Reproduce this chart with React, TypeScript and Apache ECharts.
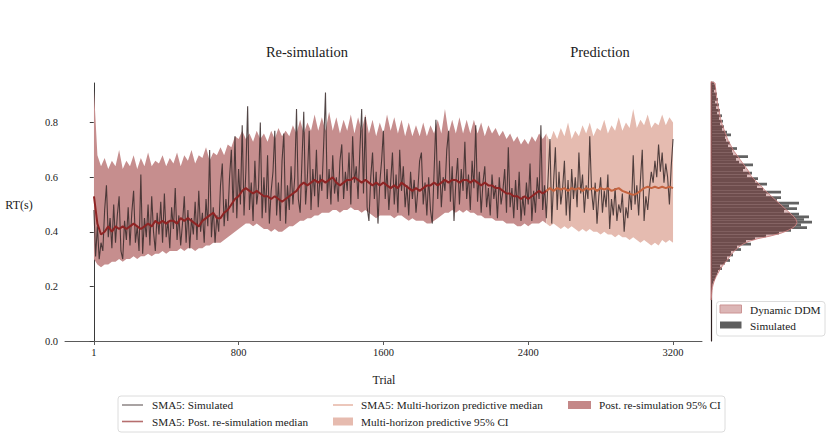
import React, { useEffect, useRef } from "react";
import * as echarts from "echarts";

// ---------- axis ticks ----------
const X_TICKS = [1, 800, 1600, 2400, 3200];
const Y_TICKS = [0, 0.2, 0.4, 0.6, 0.8];

// ---------- sampling grid (trial numbers) ----------
const SIM_STEP = 10; // simulated SMA5 sampled every 10 trials (first = trial 1)
const BAND_STEP = 20; // medians / CIs sampled every 20 trials
const PRED_START = 2500;

// SMA5: Simulated (trials 1, 10, 20, ..., 3200)
const SIMULATED = [
  0.48, 0.31, 0.42, 0.30, 0.36, 0.33, 0.48, 0.57, 0.38, 0.45,
  0.34, 0.50, 0.36, 0.46, 0.53, 0.33, 0.30, 0.44, 0.37, 0.49,
  0.35, 0.47, 0.55, 0.36, 0.42, 0.33, 0.61, 0.32, 0.45, 0.38,
  0.50, 0.35, 0.53, 0.40, 0.33, 0.47, 0.39, 0.51, 0.36, 0.54,
  0.38, 0.44, 0.34, 0.49, 0.41, 0.56, 0.37, 0.46, 0.35, 0.43,
  0.53, 0.36, 0.48, 0.34, 0.45, 0.39, 0.51, 0.37, 0.55, 0.40,
  0.47, 0.36, 0.52, 0.42, 0.70, 0.38, 0.49, 0.36, 0.46, 0.40,
  0.57, 0.65, 0.42, 0.52, 0.44, 0.60, 0.70, 0.47, 0.75, 0.45,
  0.63, 0.50, 0.79, 0.46, 0.62, 0.86, 0.48, 0.58, 0.44, 0.66,
  0.50, 0.56, 0.80, 0.45, 0.60, 0.47, 0.68, 0.43, 0.55, 0.62,
  0.77, 0.46, 0.58, 0.44, 0.66, 0.76, 0.43, 0.57, 0.48, 0.64,
  0.50, 0.60, 0.85, 0.52, 0.47, 0.66, 0.84, 0.50, 0.60, 0.77,
  0.48, 0.63, 0.53, 0.70, 0.49, 0.61, 0.55, 0.72, 0.91, 0.52,
  0.63, 0.50, 0.68, 0.54, 0.60, 0.51, 0.66, 0.72, 0.52, 0.62,
  0.55, 0.69, 0.50, 0.75, 0.58, 0.64, 0.52, 0.70, 0.85, 0.54,
  0.82, 0.49, 0.44, 0.60, 0.69, 0.52, 0.62, 0.43, 0.58, 0.66,
  0.77, 0.52, 0.63, 0.48, 0.58, 0.69, 0.50, 0.61, 0.47, 0.70,
  0.55, 0.64, 0.49, 0.57, 0.46, 0.62, 0.52, 0.59, 0.47, 0.55,
  0.66, 0.69, 0.50, 0.58, 0.46, 0.60, 0.48, 0.43, 0.62, 0.81,
  0.52, 0.66, 0.49, 0.60, 0.55, 0.70, 0.77, 0.51, 0.64, 0.44,
  0.58, 0.67, 0.50, 0.63, 0.55, 0.73, 0.52, 0.61, 0.48, 0.66,
  0.56, 0.79, 0.51, 0.62, 0.47, 0.58, 0.64, 0.49, 0.56, 0.46,
  0.61, 0.52, 0.57, 0.45, 0.60, 0.50, 0.55, 0.63, 0.47, 0.71,
  0.49, 0.56, 0.45, 0.59, 0.48, 0.62, 0.44, 0.53, 0.46, 0.58,
  0.50, 0.65, 0.44, 0.55, 0.47, 0.60, 0.52, 0.79, 0.48, 0.57,
  0.45, 0.60, 0.74, 0.43, 0.58, 0.71, 0.48, 0.62, 0.50, 0.56,
  0.66, 0.46, 0.59, 0.44, 0.63, 0.52, 0.60, 0.49, 0.69, 0.54,
  0.61, 0.47, 0.57, 0.52, 0.75, 0.55, 0.48, 0.58, 0.43, 0.53,
  0.60, 0.47, 0.55, 0.49, 0.61, 0.41, 0.52, 0.46, 0.56, 0.44,
  0.50, 0.47, 0.54, 0.40, 0.49, 0.45, 0.55, 0.48, 0.68, 0.50,
  0.57, 0.46, 0.59, 0.70, 0.44, 0.53, 0.48, 0.56, 0.62, 0.58,
  0.66, 0.60, 0.72, 0.62, 0.69, 0.58, 0.65, 0.60, 0.50, 0.64,
  0.74,
];

// Re-simulation (trials 1, 20, 40, ..., 2500)
const POST_MEDIAN = [
  0.53, 0.43, 0.39, 0.40, 0.42, 0.40, 0.42, 0.41, 0.42, 0.41,
  0.42, 0.43, 0.42, 0.41, 0.42, 0.43, 0.42, 0.44, 0.43, 0.44,
  0.43, 0.44, 0.44, 0.43, 0.45, 0.44, 0.45, 0.44, 0.43, 0.42,
  0.44, 0.45, 0.46, 0.47, 0.45, 0.45, 0.47, 0.48, 0.50, 0.52,
  0.53, 0.55, 0.56, 0.55, 0.54, 0.55, 0.54, 0.53, 0.53, 0.52,
  0.53, 0.52, 0.51, 0.52, 0.53, 0.54, 0.55, 0.57, 0.58, 0.57,
  0.58, 0.59, 0.58, 0.59, 0.58, 0.59, 0.60, 0.58, 0.57, 0.58,
  0.59, 0.59, 0.60, 0.59, 0.58, 0.59, 0.58, 0.57, 0.58, 0.57,
  0.58, 0.57, 0.56, 0.57, 0.56, 0.58, 0.57, 0.56, 0.55, 0.56,
  0.55, 0.56, 0.57, 0.57, 0.58, 0.57, 0.58, 0.59, 0.58, 0.59,
  0.59, 0.58, 0.59, 0.59, 0.58, 0.59, 0.58, 0.57, 0.58, 0.57,
  0.57, 0.56, 0.56, 0.55, 0.54, 0.54, 0.53, 0.53, 0.52, 0.53,
  0.52, 0.53, 0.54, 0.55, 0.54, 0.55,
];
const POST_UPPER = [
  0.92, 0.68, 0.64, 0.67, 0.63, 0.66, 0.64, 0.70, 0.63, 0.66,
  0.64, 0.68, 0.63, 0.67, 0.64, 0.69, 0.64, 0.66, 0.65, 0.68,
  0.64, 0.67, 0.65, 0.69, 0.64, 0.68, 0.66, 0.70, 0.65, 0.68,
  0.67, 0.71, 0.66, 0.69, 0.68, 0.71, 0.68, 0.72, 0.71, 0.75,
  0.74, 0.77, 0.74, 0.76, 0.73, 0.77, 0.74, 0.76, 0.73, 0.77,
  0.74, 0.78, 0.75, 0.77, 0.75, 0.79, 0.76, 0.81, 0.76, 0.80,
  0.77, 0.83, 0.77, 0.82, 0.77, 0.84, 0.77, 0.82, 0.76, 0.81,
  0.77, 0.83, 0.76, 0.82, 0.77, 0.83, 0.76, 0.81, 0.75, 0.80,
  0.76, 0.83, 0.77, 0.82, 0.76, 0.81, 0.75, 0.80, 0.75, 0.79,
  0.75, 0.80, 0.75, 0.79, 0.76, 0.81, 0.76, 0.85, 0.76, 0.81,
  0.76, 0.82, 0.76, 0.81, 0.76, 0.81, 0.76, 0.80, 0.75, 0.79,
  0.76, 0.78, 0.75, 0.77, 0.74, 0.76, 0.73, 0.75, 0.72, 0.74,
  0.72, 0.75, 0.73, 0.76, 0.74, 0.76,
];
const POST_LOWER = [
  0.30, 0.28, 0.27, 0.28, 0.28, 0.29, 0.29, 0.30, 0.29, 0.30,
  0.30, 0.31, 0.30, 0.31, 0.31, 0.32, 0.31, 0.32, 0.32, 0.33,
  0.32, 0.33, 0.33, 0.33, 0.34, 0.33, 0.34, 0.34, 0.33, 0.34,
  0.34, 0.35, 0.35, 0.36, 0.36, 0.36, 0.37, 0.38, 0.39, 0.40,
  0.41, 0.42, 0.43, 0.43, 0.42, 0.43, 0.42, 0.41, 0.41, 0.40,
  0.41, 0.40, 0.40, 0.41, 0.42, 0.42, 0.43, 0.44, 0.44, 0.45,
  0.45, 0.46, 0.46, 0.47, 0.47, 0.47, 0.48, 0.48, 0.47, 0.48,
  0.48, 0.49, 0.48, 0.48, 0.47, 0.48, 0.47, 0.46, 0.45, 0.46,
  0.46, 0.46, 0.46, 0.45, 0.46, 0.46, 0.45, 0.44, 0.45, 0.44,
  0.44, 0.44, 0.43, 0.43, 0.44, 0.45, 0.46, 0.47, 0.47, 0.48,
  0.47, 0.48, 0.47, 0.48, 0.47, 0.47, 0.46, 0.46, 0.45, 0.45,
  0.45, 0.44, 0.44, 0.44, 0.43, 0.43, 0.43, 0.42, 0.42, 0.43,
  0.42, 0.43, 0.43, 0.43, 0.44, 0.43,
];

// Prediction (trials 2500, 2520, ..., 3200)
const PRED_MEDIAN = [
  0.55, 0.56, 0.55, 0.56, 0.555, 0.56, 0.55, 0.56, 0.555, 0.56,
  0.55, 0.56, 0.555, 0.56, 0.55, 0.56, 0.555, 0.56, 0.55, 0.555,
  0.56, 0.55, 0.545, 0.54, 0.535, 0.54, 0.55, 0.56, 0.565, 0.56,
  0.565, 0.56, 0.565, 0.56, 0.565, 0.56,
];
const PRED_UPPER = [
  0.76, 0.73, 0.77, 0.74, 0.78, 0.75, 0.80, 0.74, 0.77, 0.75,
  0.79, 0.76, 0.80, 0.75, 0.78, 0.77, 0.81, 0.76, 0.79, 0.77,
  0.82, 0.77, 0.80, 0.78, 0.85, 0.78, 0.81, 0.79, 0.83, 0.78,
  0.80, 0.79, 0.83, 0.79, 0.82, 0.80,
];
const PRED_LOWER = [
  0.43, 0.42, 0.43, 0.42, 0.41, 0.42, 0.41, 0.42, 0.41, 0.40,
  0.41, 0.40, 0.41, 0.40, 0.40, 0.39, 0.40, 0.39, 0.39, 0.38,
  0.39, 0.38, 0.38, 0.37, 0.38, 0.37, 0.36, 0.37, 0.36, 0.35,
  0.36, 0.35, 0.37, 0.36, 0.37, 0.36,
];

// RT histogram (bins of 0.01 from 0.15 to 0.95), bar lengths
const HIST_START = 0.15;
const HIST_BIN = 0.01;
const HIST_DDM = [
  0.3, 0.5, 0.7, 1, 1.4, 2, 2.8, 3.8, 5, 6.5,
  8, 9.5, 11.5, 13.5, 16, 18, 20, 22, 25, 28,
  32, 38, 47, 60, 70, 77, 82, 85, 86, 85,
  83, 80, 77, 74, 71, 68, 65, 62, 59, 56,
  53, 51, 48, 45, 42.5, 40, 38.5, 37, 35, 33,
  31, 29, 27, 25, 23, 21.5, 20, 18.5, 17, 16,
  15, 14, 13, 12, 11, 10.3, 9.6, 9, 8.5, 8,
  7.4, 6.8, 6.4, 6, 5.6, 5.2, 4.9, 4.6, 4.3, 4,
];
const HIST_SIM = [
  0, 0, 0.5, 0.5, 1, 1.5, 2.5, 4, 5, 6,
  7, 11, 9, 14, 19, 16, 22, 20, 30, 26,
  40, 35, 44, 55, 68, 80, 96, 90, 101, 93,
  98, 88, 73, 86, 78, 88, 66, 70, 55, 70,
  52, 46, 56, 44, 47, 36, 41, 32, 34, 42,
  28, 25, 37, 22, 21, 26, 17, 19, 15, 14,
  20, 16, 11, 13, 9, 12, 8, 11, 6, 9,
  5, 8, 4, 7, 5, 6, 3, 5, 4, 3,
];

const FONT = "'Liberation Serif', 'DejaVu Serif', serif";
const TXT = "#1a1a1a";

const simTrial = (j: number) => (j === 0 ? 1 : j * SIM_STEP);
const postTrial = (i: number) => (i === 0 ? 1 : i * BAND_STEP);
const predTrial = (k: number) => PRED_START + k * BAND_STEP;

function bandRenderer(upper: number[], lower: number[], trialOf: (i: number) => number, fill: string) {
  return (_params: any, api: any) => {
    const pts: number[][] = [];
    for (let i = 0; i < upper.length; i++) pts.push(api.coord([trialOf(i), upper[i]]));
    for (let i = lower.length - 1; i >= 0; i--) pts.push(api.coord([trialOf(i), lower[i]]));
    return { type: "polygon", shape: { points: pts }, style: { fill } };
  };
}

function text(t: string, x: number, y: number, size: number, align = "left") {
  return {
    type: "text",
    x,
    y,
    style: { text: t, fill: TXT, fontSize: size, fontFamily: FONT, textAlign: align, textVerticalAlign: "middle" },
  };
}

export default function App() {
  const ref = useRef<HTMLDivElement>(null);
  useEffect(() => {
    if (!ref.current) return;
    const chart = echarts.init(ref.current, null, { renderer: "svg" });

    const legendFs = 11.2;
    const graphic: any[] = [
      text("Re-simulation", 307, 51.5, 14.5, "center"),
      text("Prediction", 600, 51.5, 14.5, "center"),
      text("RT(s)", 19, 205, 12, "center"),
      text("Trial", 384, 380, 12, "center"),
      // bottom legend
      {
        type: "rect",
        shape: { x: 118, y: 396, width: 607, height: 36, r: 3 },
        style: { fill: "#fff", stroke: "#dcdcdc", lineWidth: 1 },
      },
      { type: "line", shape: { x1: 122, y1: 405, x2: 143, y2: 405 }, style: { stroke: "#7a7272", lineWidth: 1.3 } },
      text("SMA5: Simulated", 152, 405, legendFs),
      { type: "line", shape: { x1: 122, y1: 421.5, x2: 143, y2: 421.5 }, style: { stroke: "#b66e6e", lineWidth: 1.6 } },
      text("SMA5: Post. re-simulation median", 152, 421.5, legendFs),
      { type: "line", shape: { x1: 333, y1: 405, x2: 353, y2: 405 }, style: { stroke: "#e2a996", lineWidth: 1.3 } },
      text("SMA5: Multi-horizon predictive median", 361, 405, legendFs),
      { type: "rect", shape: { x: 333, y: 417.5, width: 20, height: 8 }, style: { fill: "#e6bbaf" } },
      text("Multi-horizon predictive 95% CI", 361, 421.5, legendFs),
      { type: "rect", shape: { x: 568, y: 401, width: 23, height: 8 }, style: { fill: "#c48888" } },
      text("Post. re-simulation 95% CI", 599, 405, legendFs),
      // histogram legend
      {
        type: "rect",
        shape: { x: 716.5, y: 301.5, width: 108.5, height: 34.5, r: 3 },
        style: { fill: "rgba(255,255,255,0.9)", stroke: "#dcdcdc", lineWidth: 1 },
      },
      {
        type: "rect",
        shape: { x: 720, y: 305, width: 21.5, height: 8 },
        style: { fill: "#dcb6b6", stroke: "#cc9494", lineWidth: 1 },
      },
      text("Dynamic DDM", 750, 309.5, 11.3),
      { type: "rect", shape: { x: 720, y: 321.5, width: 21.5, height: 7 }, style: { fill: "#5e5e5e" } },
      text("Simulated", 750, 325.5, 11.3),
    ];

    const option: any = {
      animation: false,
      backgroundColor: "#fff",
      grid: [
        { left: 65, right: 128, top: 83, bottom: 96 },
        { left: 711, right: 4, top: 83, bottom: 96 },
      ],
      xAxis: [
        {
          type: "value",
          gridIndex: 0,
          min: -159,
          max: 3360,
          splitLine: { show: false },
          axisLine: { show: true, lineStyle: { color: "#5a5a5a", width: 1 } },
          axisTick: { show: true, length: 4, customValues: X_TICKS, lineStyle: { color: "#5a5a5a" } },
          axisLabel: {
            customValues: X_TICKS,
            formatter: (v: number) => String(v),
            color: TXT,
            fontFamily: FONT,
            fontSize: 10.5,
            margin: 6,
          },
        },
        { type: "value", gridIndex: 1, min: 0, max: 115, show: false },
      ],
      yAxis: [
        {
          type: "value",
          gridIndex: 0,
          min: 0,
          max: 0.945,
          splitLine: { show: false },
          axisLine: { show: true, lineStyle: { color: "#3a3a3a", width: 1 } },
          axisTick: { show: true, length: 4, customValues: Y_TICKS, lineStyle: { color: "#3a3a3a" } },
          axisLabel: {
            customValues: Y_TICKS,
            formatter: (v: number) => v.toFixed(1),
            color: TXT,
            fontFamily: FONT,
            fontSize: 10.5,
            margin: 7,
          },
        },
        {
          type: "value",
          gridIndex: 1,
          min: 0,
          max: 0.945,
          splitLine: { show: false },
          axisLine: { show: true, lineStyle: { color: "#2e2020", width: 1.2 } },
          axisTick: { show: false },
          axisLabel: { show: false },
        },
      ],
      series: [
        {
          name: "Post. re-simulation 95% CI",
          type: "custom",
          xAxisIndex: 0,
          yAxisIndex: 0,
          data: [[1, 0.5]],
          silent: true,
          renderItem: bandRenderer(POST_UPPER, POST_LOWER, postTrial, "#c68e8e"),
          z: 1,
        },
        {
          name: "Multi-horizon predictive 95% CI",
          type: "custom",
          xAxisIndex: 0,
          yAxisIndex: 0,
          data: [[PRED_START, 0.5]],
          silent: true,
          renderItem: bandRenderer(PRED_UPPER, PRED_LOWER, predTrial, "#e5bbb0"),
          z: 1,
        },
        {
          name: "SMA5: Simulated",
          type: "line",
          xAxisIndex: 0,
          yAxisIndex: 0,
          data: SIMULATED.map((v, j) => [simTrial(j), v]),
          showSymbol: false,
          lineStyle: { color: "rgba(58,44,44,0.88)", width: 1.1 },
          z: 3,
        },
        {
          name: "SMA5: Post. re-simulation median",
          type: "line",
          xAxisIndex: 0,
          yAxisIndex: 0,
          data: POST_MEDIAN.map((v, i) => [postTrial(i), v]),
          showSymbol: false,
          lineStyle: { color: "#8e2424", width: 2 },
          z: 4,
        },
        {
          name: "SMA5: Multi-horizon predictive median",
          type: "line",
          xAxisIndex: 0,
          yAxisIndex: 0,
          data: PRED_MEDIAN.map((v, k) => [predTrial(k), v]),
          showSymbol: false,
          lineStyle: { color: "#c4633f", width: 2 },
          z: 4,
        },
        {
          name: "Simulated",
          type: "custom",
          xAxisIndex: 1,
          yAxisIndex: 1,
          silent: true,
          data: HIST_SIM.map((v, k) => [v, HIST_START + k * HIST_BIN]),
          renderItem: (_p: any, api: any) => {
            const v = api.value(0);
            const lo = api.value(1);
            const a = api.coord([0, lo + HIST_BIN]);
            const b = api.coord([v, lo]);
            return {
              type: "rect",
              shape: { x: a[0], y: a[1], width: b[0] - a[0], height: b[1] - a[1] },
              style: { fill: "rgba(70,70,70,0.85)" },
            };
          },
          z: 2,
        },
        {
          name: "Dynamic DDM",
          type: "custom",
          xAxisIndex: 1,
          yAxisIndex: 1,
          silent: true,
          data: [[0, HIST_START]],
          renderItem: (_p: any, api: any) => {
            const pts: number[][] = [api.coord([0, HIST_START])];
            HIST_DDM.forEach((v, k) => pts.push(api.coord([v, HIST_START + (k + 0.5) * HIST_BIN])));
            pts.push(api.coord([0, HIST_START + HIST_DDM.length * HIST_BIN]));
            return {
              type: "polygon",
              shape: { points: pts },
              style: { fill: "rgba(140,30,30,0.3)", stroke: "rgba(205,130,130,0.9)", lineWidth: 1 },
            };
          },
          z: 3,
        },
      ],
      graphic,
    };
    chart.setOption(option);
    return () => chart.dispose();
  }, []);
  return <div ref={ref} style={{ position: "fixed", left: 0, top: 0, width: 830, height: 437 }} />;
}
